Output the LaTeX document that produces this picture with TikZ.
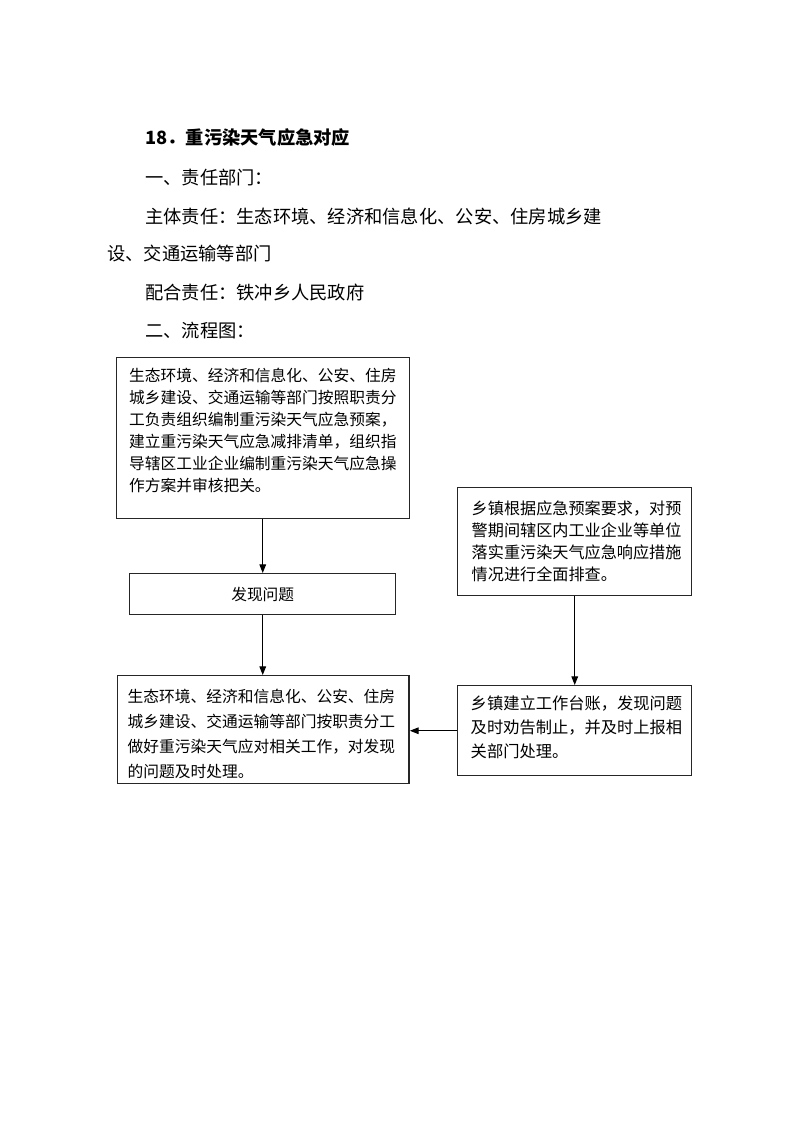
\documentclass[tikz,border=0pt]{standalone}
\usepackage{fontspec}
\setmainfont{Noto Sans CJK SC}
\usetikzlibrary{arrows.meta}
\newcommand\boxlines[7]{%
  \begin{minipage}[c][#1][t]{#2}%
  \fontsize{#5}{#6}\selectfont
  \parindent=0pt \parskip=0pt \leftskip=#4 \rightskip=0pt plus 1fil
  \vspace*{#3}%
  \rule{0pt}{0.9em}#7\par
  \end{minipage}}
\newcommand\hdrfont{\fontsize{13.7pt}{16pt}\selectfont}
\begin{document}
\begin{tikzpicture}[x=0.75pt,y=-0.75pt]
\tikzset{
  box/.style={draw=black!85, line width=1.1pt, inner sep=0pt, anchor=north west},
  hdr/.style={anchor=base west, inner sep=0pt, font=\hdrfont},
  arr/.style={line width=0.8pt, -{Triangle[length=6.5pt,width=5pt]}}
}
\useasboundingbox[fill=white] (0,0) rectangle (793,1122);

% header text
\node[hdr] (t1) at (145,144) {\bfseries 18．重污染天气应急对应};
\node[hdr] (t2) at (145,184) {一、责任部门：};
\node[hdr] (t3) at (145,223) {主体责任：生态环境、经济和信息化、公安、住房城乡建};
\node[hdr] (t4) at (107,260) {设、交通运输等部门};
\node[hdr] (t5) at (145,299) {配合责任：铁冲乡人民政府};
\node[hdr] (t6) at (145,337) {二、流程图：};

% boxes
\node[box] (b1) at (116,357) {\boxlines{120.75pt}{219.4pt}{7.3pt}{9.3pt}{11.8pt}{16.5pt}{%
生态环境、经济和信息化、公安、住房\\
城乡建设、交通运输等部门按照职责分\\
工负责组织编制重污染天气应急预案，\\
建立重污染天气应急减排清单，组织指\\
导辖区工业企业编制重污染天气应急操\\
作方案并审核把关。}};

\node[box, minimum width=199.5pt, minimum height=30.75pt] (b2) at (129,573)
  {\fontsize{11.8pt}{14pt}\selectfont 发现问题};

\node[box] (b3) at (457,487) {\boxlines{81pt}{175.5pt}{9.5pt}{10.5pt}{12.1pt}{16.5pt}{%
乡镇根据应急预案要求，对预\\
警期间辖区内工业企业等单位\\
落实重污染天气应急响应措施\\
情况进行全面排查。}};

\node[box] (b4) at (117,675) {\boxlines{81pt}{218.6pt}{9.6pt}{7.5pt}{11.8pt}{18.75pt}{%
生态环境、经济和信息化、公安、住房\\
城乡建设、交通运输等部门按职责分工\\
做好重污染天气应对相关工作，对发现\\
的问题及时处理。}};

\node[box] (b5) at (457,685) {\boxlines{67.5pt}{175.5pt}{6.6pt}{9.75pt}{12.2pt}{18.2pt}{%
乡镇建立工作台账，发现问题\\
及时劝告制止，并及时上报相\\
关部门处理。}};

% connectors
\draw[arr] (b2.north |- b1.south) -- (b2.north);
\draw[arr] (b2.south) -- (b2.south |- b4.north);
\draw[arr] (b3.south) -- (b3.south |- b5.north);
\draw[arr] (b5.west) -- (b5.west -| b4.east);
\end{tikzpicture}
\end{document}
